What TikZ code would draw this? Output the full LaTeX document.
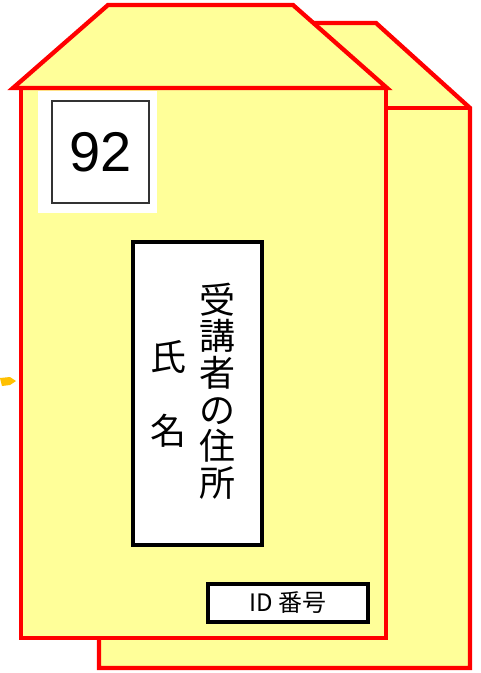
\documentclass[tikz,border=0pt]{standalone}
\usepackage{fontspec}
\setmainfont{Liberation Sans}
\newfontfamily\jpfont{Noto Sans CJK JP}
\definecolor{envyellow}{HTML}{FFFF99}
\definecolor{envred}{HTML}{FF0000}
\definecolor{markorange}{HTML}{FFC000}
\begin{document}
\begin{tikzpicture}[x=1pt,y=-1pt,
  envelope/.style={fill=envyellow,draw=envred,line width=4.3pt,line join=miter},
  labelbox/.style={fill=white,draw=black,line width=3.3pt},
  numbox/.style={fill=white,draw=black!80,line width=1.6pt},
  vtext/.style={font=\jpfont\fontsize{36}{36.6}\selectfont,align=center,inner sep=0pt}]
\useasboundingbox (0,0) rectangle (481,673);
% back envelope
\draw[envelope] (99,108) -- (190,23) -- (376,23) -- (470,108) -- (470,668) -- (99,668) -- cycle;
\draw[envelope] (99,108) -- (470,108);
% front envelope
\draw[envelope] (21,88) rectangle (386,638);
\draw[envelope] (13,88) -- (108,5) -- (293,5) -- (387,88) -- cycle;
% number area
\fill[white] (38,91) rectangle (157,213);
\node[numbox,minimum width=97pt,minimum height=102pt,inner sep=0pt,
  font=\fontsize{56}{60}\selectfont] (num) at (100.5,152) {92};
% address box
\draw[labelbox] (133,242) rectangle (262,545);
\node[vtext] (addr) at (217,391) {受\\講\\者\\の\\住\\所};
\node[vtext] (shi) at (168,357) {氏};
\node[vtext] (mei) at (168,431) {名};
% ID box
\node[labelbox,minimum width=160pt,minimum height=38pt,inner sep=0pt,
  font=\jpfont\fontsize{24}{26}\selectfont] (id) at (288,603) {ID 番号};
% small orange marker
\fill[markorange] (0,378) -- (10,377) -- (16,381) -- (10,385) -- (2,386) -- cycle;
\end{tikzpicture}
\end{document}
